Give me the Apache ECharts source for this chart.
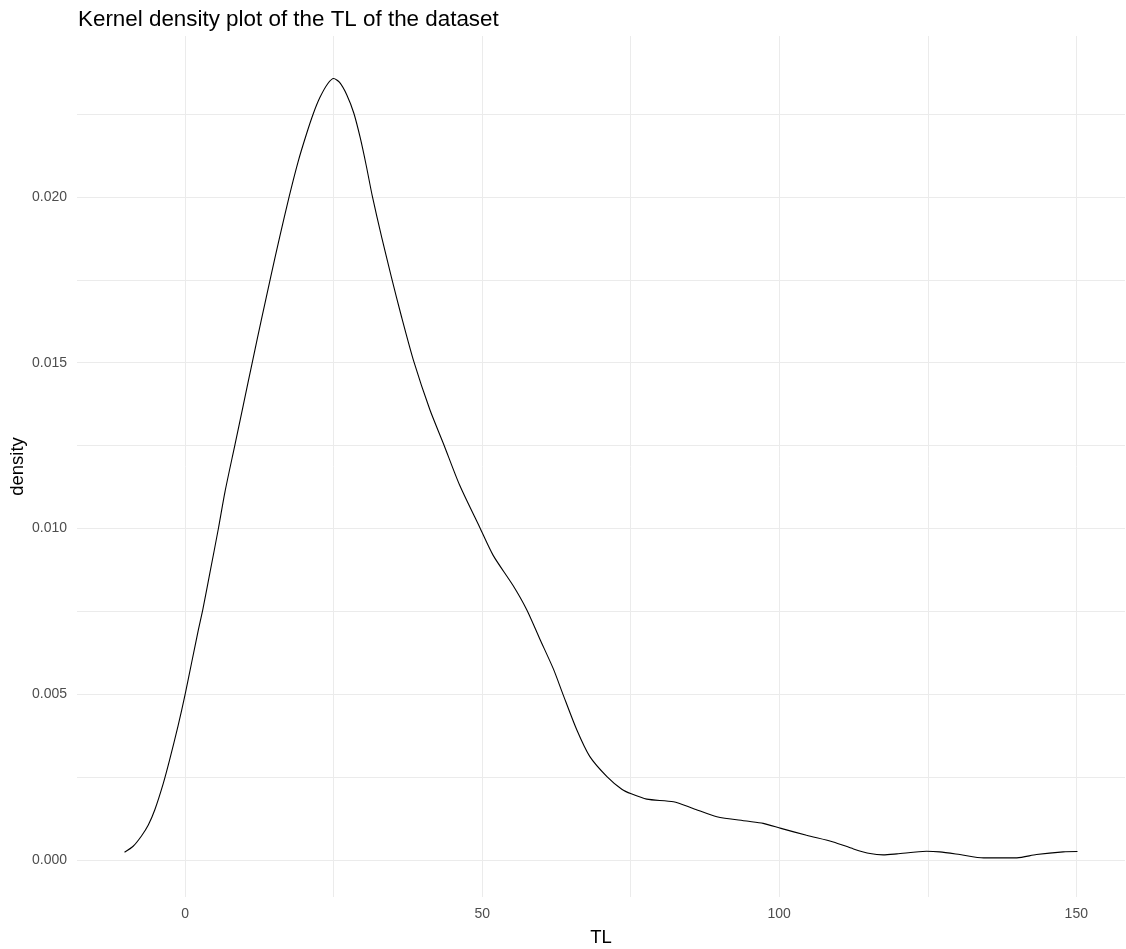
<!DOCTYPE html>
<html>
<head>
<meta charset="utf-8">
<script src="https://cdn.jsdelivr.net/npm/echarts@6/dist/echarts.min.js"></script>
<style>
html,body{margin:0;padding:0;background:#fff;}
#chart{width:1126px;height:949px;}
</style>
</head>
<body>
<div id="chart"></div>
<script>
// Kernel density estimate of TL
const tlValues = [-10.2, -8.75, -7.35, -6.2, -5.1, -3.7, -2.6, -1.2, 0, 1.1, 2.2, 3.0, 4.2, 5.6, 6.7, 8.4, 9.8, 11.35, 12.9, 14.4, 15.9, 17.5, 19.0, 20.4, 21.6, 22.7, 24.0, 25.0, 26.0, 27.2, 28.4, 29.5, 30.5, 31.5, 33.1, 34.75, 36.4, 38.5, 41.2, 43.5, 46.2, 49.6, 51.85, 55.2, 57.5, 59.7, 62.0, 63.6, 65.9, 68.1, 71.0, 73.5, 75.1, 77.7, 82.2, 85.5, 89.5, 94.5, 97.3, 100.3, 104.6, 109.1, 112.5, 115.3, 117.5, 119.8, 124.8, 127, 130.4, 134.4, 140, 143.3, 147.8, 150.2];
const densityValues = [0.00024, 0.00042, 0.00073, 0.00106, 0.00152, 0.0023, 0.00303, 0.00404, 0.005, 0.00596, 0.00692, 0.00758, 0.00869, 0.010, 0.0111, 0.01254, 0.01373, 0.01505, 0.01635, 0.01758, 0.01878, 0.02000, 0.02105, 0.02188, 0.02252, 0.02300, 0.02341, 0.02357, 0.02345, 0.02308, 0.02252, 0.02176, 0.02093, 0.02003, 0.01877, 0.01756, 0.01640, 0.01503, 0.01358, 0.01255, 0.01131, 0.01003, 0.00919, 0.00828, 0.00755, 0.00667, 0.00576, 0.005, 0.00394, 0.00313, 0.00252, 0.00214, 0.002, 0.00184, 0.00176, 0.00156, 0.00131, 0.00118, 0.00111, 0.00096, 0.00075, 0.00055, 0.00034, 0.0002, 0.00016, 0.00019, 0.00027, 0.00025, 0.00017, 0.00007, 0.00007, 0.00017, 0.00025, 0.00026];
const xTickLabels = [0, 50, 100, 150];
const xGridValues = [0, 25, 50, 75, 100, 125, 150];
const yTickLabels = [0, 0.005, 0.010, 0.015, 0.020];
const yGridValues = [0, 0.0025, 0.005, 0.0075, 0.010, 0.0125, 0.015, 0.0175, 0.020, 0.0225];

const titleText = 'Kernel density plot of the TL of the dataset';
const xName = 'TL';
const yName = 'density';

const points = tlValues.map((t, i) => [t, densityValues[i]]);
const grid = '#ebebeb';
const font = 'Liberation Sans, Arial, sans-serif';

const chart = echarts.init(document.getElementById('chart'), null, {renderer: 'canvas'});
chart.setOption({
  animation: false,
  backgroundColor: '#ffffff',
  title: {
    text: titleText,
    left: 73,
    top: 4,
    textStyle: {fontFamily: font, fontSize: 22.4, fontWeight: 'normal', color: '#000000'}
  },
  grid: {left: 77, right: 1, top: 36, bottom: 52, containLabel: false, outerBoundsMode: 'none'},
  xAxis: {
    type: 'value',
    min: -18.2,
    max: 158.2,
    name: xName,
    nameLocation: 'middle',
    nameGap: 31,
    nameMoveOverlap: false,
    nameTextStyle: {fontFamily: font, fontSize: 18.5, color: '#000000'},
    axisLine: {show: false},
    axisTick: {show: false, customValues: xGridValues},
    axisLabel: {
      customValues: xTickLabels,
      margin: 10,
      fontFamily: font, fontSize: 14, color: '#4d4d4d',
      formatter: v => String(Math.round(v))
    },
    splitLine: {show: true, customValues: xGridValues, lineStyle: {color: grid, width: 1}}
  },
  yAxis: {
    type: 'value',
    min: -0.00111,
    max: 0.02485,
    name: yName,
    nameLocation: 'middle',
    nameGap: 50,
    nameMoveOverlap: false,
    nameTextStyle: {fontFamily: font, fontSize: 18.5, color: '#000000'},
    axisLine: {show: false},
    axisTick: {show: false, customValues: yGridValues},
    axisLabel: {
      customValues: yTickLabels,
      margin: 10,
      fontFamily: font, fontSize: 14, color: '#4d4d4d',
      formatter: v => v.toFixed(3)
    },
    splitLine: {show: true, customValues: yGridValues, lineStyle: {color: grid, width: 1}}
  },
  series: [{
    type: 'line',
    data: points,
    smooth: 0.25,
    showSymbol: false,
    lineStyle: {color: '#000000', width: 1.1},
    silent: true
  }]
});
</script>
</body>
</html>
